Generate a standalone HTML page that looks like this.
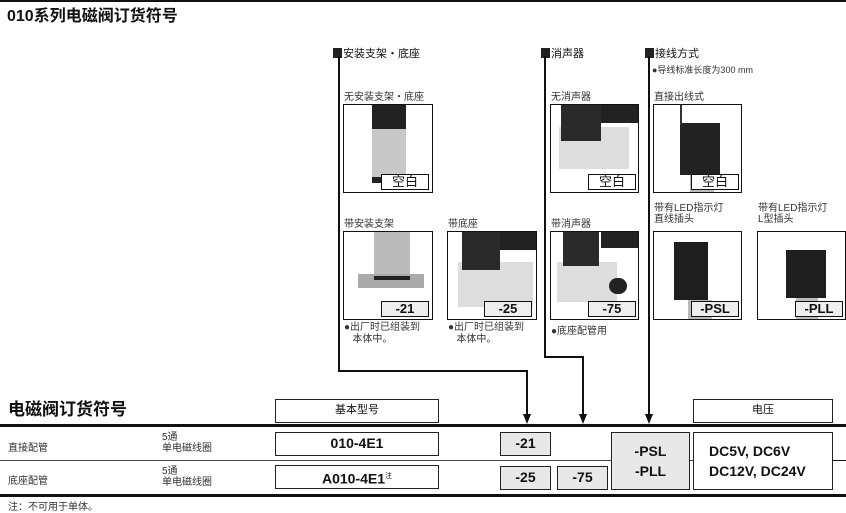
<!DOCTYPE html>
<html><head><meta charset="utf-8"><style>
*{margin:0;padding:0;box-sizing:border-box}
body{width:846px;height:511px;background:#fff;position:relative;overflow:hidden;font-family:"Liberation Sans","Noto Sans CJK SC",sans-serif;color:#111}
.a{position:absolute}
.t{font-size:10px;white-space:nowrap;color:#333}
.box{position:absolute;border:1.5px solid #111;background:#fff;overflow:hidden}
.lab{position:absolute;border:1.5px solid #111;background:#eee;font-weight:bold;font-size:13px;text-align:center;line-height:13px}
.cell{position:absolute;border:1.5px solid #222;text-align:center;font-weight:bold;font-size:14px}
.ln{position:absolute;background:#111}
.arr{position:absolute;width:0;height:0;border-left:4px solid transparent;border-right:4px solid transparent;border-top:10px solid #111}
.sq{display:inline-block;width:9px;height:10px;background:#222;vertical-align:-1px;margin-right:1px}
</style></head><body>
<div class="ln" style="left:0;top:0;width:846px;height:2px"></div>
<div class="a" style="left:7px;top:2px;font-size:16px;font-weight:bold;">010系列电磁阀订货符号</div>

<div class="a t" style="left:333px;top:45px;font-size:11px;color:#111"><span class="sq"></span>安装支架・底座</div>
<div class="a t" style="left:541px;top:45px;font-size:11px;color:#111"><span class="sq"></span>消声器</div>
<div class="a t" style="left:645px;top:45px;font-size:11px;color:#111"><span class="sq"></span>接线方式</div>
<div class="a t" style="left:652px;top:63px;font-size:9px">●导线标准长度为300 mm</div>

<div class="ln" style="left:338px;top:56px;width:1.5px;height:316px"></div>
<div class="ln" style="left:338px;top:370px;width:189px;height:1.5px"></div>
<div class="ln" style="left:526px;top:370px;width:1.5px;height:46px"></div>
<div class="arr" style="left:523px;top:414px"></div>
<div class="ln" style="left:544px;top:56px;width:1.5px;height:302px"></div>
<div class="ln" style="left:544px;top:356px;width:39px;height:1.5px"></div>
<div class="ln" style="left:582px;top:356px;width:1.5px;height:60px"></div>
<div class="arr" style="left:579px;top:414px"></div>
<div class="ln" style="left:648px;top:56px;width:1.5px;height:360px"></div>
<div class="arr" style="left:645px;top:414px"></div>

<div class="a t" style="left:344px;top:88px">无安装支架・底座</div>
<div class="a t" style="left:551px;top:88px">无消声器</div>
<div class="a t" style="left:654px;top:88px">直接出线式</div>

<div class="box" style="left:343px;top:104px;width:90px;height:89px">
 <div class="a" style="left:28px;top:0;width:34px;height:24px;background:#222"></div>
 <div class="a" style="left:28px;top:24px;width:34px;height:50px;background:#c8c8c8"></div>
 <div class="a" style="left:28px;top:72px;width:34px;height:6px;background:#222"></div>
</div>
<div class="box" style="left:550px;top:104px;width:89px;height:89px">
 <div class="a" style="left:8px;top:22px;width:70px;height:42px;background:#ddd"></div>
 <div class="a" style="left:10px;top:0;width:40px;height:36px;background:#2a2a2a"></div>
 <div class="a" style="left:50px;top:0;width:40px;height:18px;background:#222"></div>
</div>
<div class="box" style="left:653px;top:104px;width:89px;height:89px">
 <div class="a" style="left:26px;top:18px;width:40px;height:52px;background:#222"></div>
 <div class="a" style="left:36px;top:70px;width:24px;height:19px;background:#bbb"></div>
 <div class="a" style="left:26px;top:0;width:2px;height:20px;background:#333"></div>
</div>
<div class="lab" style="left:381px;top:174px;width:48px;height:16px;background:#fff;font-weight:normal">空白</div>
<div class="lab" style="left:588px;top:174px;width:48px;height:16px;background:#fff;font-weight:normal">空白</div>
<div class="lab" style="left:691px;top:174px;width:48px;height:16px;background:#fff;font-weight:normal">空白</div>

<div class="a t" style="left:344px;top:215px">带安装支架</div>
<div class="a t" style="left:448px;top:215px">带底座</div>
<div class="a t" style="left:551px;top:215px">带消声器</div>
<div class="a t" style="left:654px;top:203px;line-height:11px">带有LED指示灯<br>直线插头</div>
<div class="a t" style="left:758px;top:203px;line-height:11px">带有LED指示灯<br>L型插头</div>

<div class="box" style="left:343px;top:231px;width:90px;height:89px">
 <div class="a" style="left:30px;top:0;width:36px;height:45px;background:#bbb"></div>
 <div class="a" style="left:14px;top:42px;width:66px;height:14px;background:#aaa"></div>
 <div class="a" style="left:30px;top:44px;width:36px;height:4px;background:#222"></div>
</div>
<div class="box" style="left:447px;top:231px;width:90px;height:89px">
 <div class="a" style="left:10px;top:30px;width:75px;height:45px;background:#ddd"></div>
 <div class="a" style="left:14px;top:0;width:38px;height:38px;background:#2a2a2a"></div>
 <div class="a" style="left:52px;top:0;width:38px;height:18px;background:#222"></div>
</div>
<div class="box" style="left:550px;top:231px;width:89px;height:89px">
 <div class="a" style="left:6px;top:30px;width:60px;height:40px;background:#ddd"></div>
 <div class="a" style="left:12px;top:0;width:36px;height:34px;background:#2a2a2a"></div>
 <div class="a" style="left:50px;top:0;width:40px;height:16px;background:#222"></div>
 <div class="a" style="left:58px;top:46px;width:18px;height:16px;border-radius:8px;background:#222"></div>
</div>
<div class="box" style="left:653px;top:231px;width:89px;height:89px">
 <div class="a" style="left:20px;top:10px;width:34px;height:58px;background:#1e1e1e"></div>
 <div class="a" style="left:34px;top:68px;width:24px;height:21px;background:#bbb"></div>
</div>
<div class="box" style="left:757px;top:231px;width:89px;height:89px">
 <div class="a" style="left:28px;top:18px;width:40px;height:48px;background:#1e1e1e"></div>
 <div class="a" style="left:38px;top:66px;width:22px;height:23px;background:#bbb"></div>
</div>
<div class="lab" style="left:381px;top:301px;width:48px;height:16px">-21</div>
<div class="lab" style="left:484px;top:301px;width:48px;height:16px">-25</div>
<div class="lab" style="left:588px;top:301px;width:48px;height:16px">-75</div>
<div class="lab" style="left:691px;top:301px;width:48px;height:16px">-PSL</div>
<div class="lab" style="left:795px;top:301px;width:48px;height:16px">-PLL</div>

<div class="a t" style="left:344px;top:322px;line-height:12px">●出厂时已组装到<br>&nbsp;&nbsp;&nbsp;本体中。</div>
<div class="a t" style="left:448px;top:322px;line-height:12px">●出厂时已组装到<br>&nbsp;&nbsp;&nbsp;本体中。</div>
<div class="a t" style="left:551px;top:322px;">●底座配管用</div>

<div class="a" style="left:8px;top:395px;font-size:17px;font-weight:bold">电磁阀订货符号</div>
<div class="cell" style="left:275px;top:399px;width:164px;height:24px;font-weight:normal;font-size:11px;line-height:21px">基本型号</div>
<div class="cell" style="left:693px;top:399px;width:140px;height:24px;font-weight:normal;font-size:11px;line-height:21px">电压</div>
<div class="ln" style="left:0;top:424px;width:846px;height:3px"></div>
<div class="ln" style="left:0;top:460px;width:846px;height:1px;background:#444"></div>
<div class="ln" style="left:0;top:494px;width:846px;height:3px"></div>

<div class="a t" style="left:8px;top:439px">直接配管</div>
<div class="a t" style="left:162px;top:432px;line-height:11px">5通<br>单电磁线圈</div>
<div class="a t" style="left:8px;top:472px">底座配管</div>
<div class="a t" style="left:162px;top:466px;line-height:11px">5通<br>单电磁线圈</div>

<div class="cell" style="left:275px;top:432px;width:164px;height:24px;line-height:21px;background:#fff">010-4E1</div>
<div class="cell" style="left:275px;top:465px;width:164px;height:24px;line-height:21px;background:#fff">A010-4E1<sup style="font-size:7px;font-weight:normal">注</sup></div>
<div class="cell" style="left:500px;top:432px;width:51px;height:24px;line-height:21px;background:#e8e8e8">-21</div>
<div class="cell" style="left:500px;top:466px;width:51px;height:24px;line-height:21px;background:#e8e8e8">-25</div>
<div class="cell" style="left:557px;top:466px;width:51px;height:24px;line-height:21px;background:#e8e8e8">-75</div>
<div class="cell" style="left:611px;top:432px;width:79px;height:58px;background:#e8e8e8;line-height:20px;padding-top:8px">-PSL<br>-PLL</div>
<div class="cell" style="left:693px;top:432px;width:140px;height:58px;background:#fff;line-height:20px;padding-top:8px;text-align:left;padding-left:15px">DC5V, DC6V<br>DC12V, DC24V</div>
<div class="ln" style="left:833px;top:460px;width:13px;height:1px"></div>
<div class="a t" style="left:8px;top:498px">注：不可用于单体。</div>
</body></html>
